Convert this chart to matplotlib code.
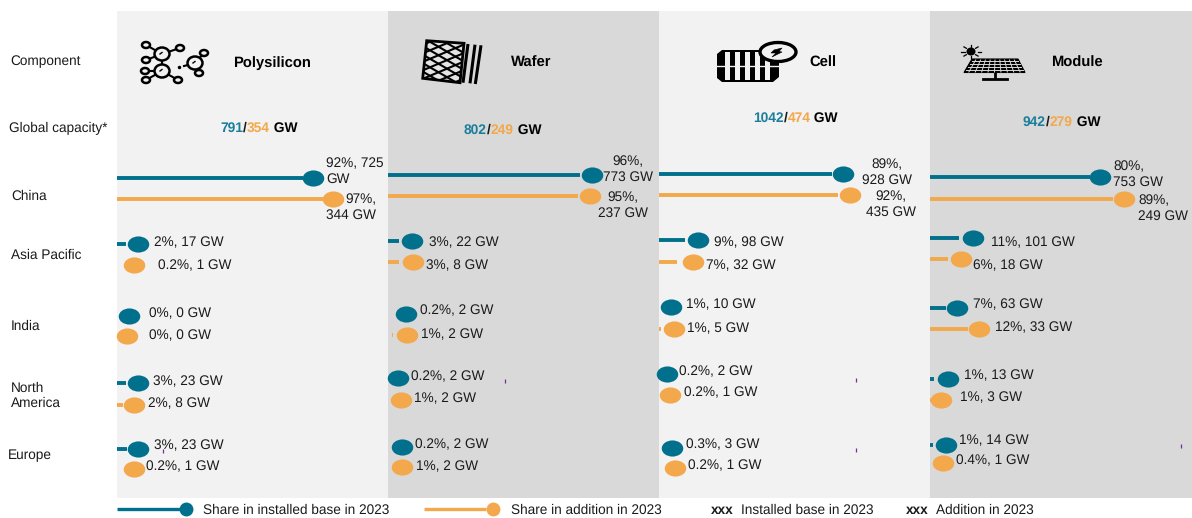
import numpy as np
import matplotlib
matplotlib.use("Agg")
import matplotlib.pyplot as plt
from matplotlib.path import Path
from matplotlib.patches import Ellipse, Polygon, Rectangle

plt.rcParams["font.family"] = ["Liberation Sans", "DejaVu Sans"]
plt.rcParams["text.hinting"] = "none"

# ---- data ----
COMPONENTS = ["Polysilicon", "Wafer", "Cell", "Module"]
REGIONS = ["China", "Asia Pacific", "India", "North\nAmerica", "Europe"]
CAP_BASE = [791, 802, 1042, 942]
CAP_ADD = [354, 249, 474, 279]

# labelled shares and GW, one list per component, in REGIONS order
poly_base_pct = ["92%", "2%", "0%", "3%", "3%"]
poly_base_gw = [725, 17, 0, 23, 23]
poly_add_pct = ["97%", "0.2%", "0%", "2%", "0.2%"]
poly_add_gw = [344, 1, 0, 8, 1]
wafer_base_pct = ["96%", "3%", "0.2%", "0.2%", "0.2%"]
wafer_base_gw = [773, 22, 2, 2, 2]
wafer_add_pct = ["95%", "3%", "1%", "1%", "1%"]
wafer_add_gw = [237, 8, 2, 2, 2]
cell_base_pct = ["89%", "9%", "1%", "0.2%", "0.3%"]
cell_base_gw = [928, 98, 10, 2, 3]
cell_add_pct = ["92%", "7%", "1%", "0.2%", "0.2%"]
cell_add_gw = [435, 32, 5, 1, 1]
module_base_pct = ["80%", "11%", "7%", "1%", "1%"]
module_base_gw = [753, 101, 63, 13, 14]
module_add_pct = ["89%", "6%", "12%", "1%", "0.4%"]
module_add_gw = [249, 18, 33, 3, 1]

poly_base_dot = [92.0, 9.9, 5.6, 9.9, 9.9]
poly_add_dot = [101.4, 8.0, 4.7, 8.0, 8.0]
wafer_base_dot = [95.8, 11.3, 8.5, 4.7, 6.6]
wafer_add_dot = [94.8, 11.7, 8.9, 6.1, 6.6]
cell_base_dot = [86.4, 18.3, 5.6, 3.8, 6.1]
cell_add_dot = [89.7, 16.0, 7.0, 5.2, 7.5]
module_base_dot = [79.8, 20.2, 12.7, 8.5, 7.5]
module_add_dot = [91.1, 14.6, 23.0, 5.2, 6.3]

poly_base_bar = [87.3, 4.2, 0, 4.2, 4.7]
poly_add_bar = [96.7, 0, 0, 2.8, 0]
wafer_base_bar = [90.1, 5.2, 0, 0, 0]
wafer_add_bar = [89.2, 5.2, 2.4, 0, 0]
cell_base_bar = [81.2, 12.2, 0, 0, 0]
cell_add_bar = [84.0, 8.5, 0.9, 0, 0]
module_base_bar = [75.1, 13.6, 7.5, 1.9, 1.4]
module_add_bar = [85.9, 8.5, 17.8, 1.4, 0]

BASE_PCT = [poly_base_pct, wafer_base_pct, cell_base_pct, module_base_pct]
BASE_GW = [poly_base_gw, wafer_base_gw, cell_base_gw, module_base_gw]
ADD_PCT = [poly_add_pct, wafer_add_pct, cell_add_pct, module_add_pct]
ADD_GW = [poly_add_gw, wafer_add_gw, cell_add_gw, module_add_gw]
BASE_DOT = [poly_base_dot, wafer_base_dot, cell_base_dot, module_base_dot]
ADD_DOT = [poly_add_dot, wafer_add_dot, cell_add_dot, module_add_dot]
BASE_BAR = [poly_base_bar, wafer_base_bar, cell_base_bar, module_base_bar]
ADD_BAR = [poly_add_bar, wafer_add_bar, cell_add_bar, module_add_bar]

# ---- layout (pixels of the 1192x518 picture) ----
W, H = 1192, 518
BLUE = "#00708c"
ORANGE = "#f3a84b"
INK = "#1a1a1a"
LABEL_SIZE = 9.85
PANEL_X = [117, 388, 659, 930, 1192]
PANEL_TOP, PANEL_BOTTOM = 11, 498
PANEL_BG = ["#f2f2f2", "#d9d9d9", "#f2f2f2", "#d9d9d9"]
PX_PER_UNIT = 2.13

BASE_Y = [[178, 244, 316, 383, 449], [175, 241, 314, 378, 447],
          [174, 240, 307, 374, 448], [177, 238, 308, 379, 445]]
ADD_Y = [[199, 265, 336, 405, 469], [196, 262, 335, 400, 467],
         [195, 262, 329, 395, 468], [199, 259, 329, 400, 463]]
BASE_LABEL = [[(326, 170, "left"), (154, 242), (149, 313), (153, 381), (154, 445)],
              [(628, 168, "center"), (429, 242), (420, 310), (411, 376), (415, 444)],
              [(887, 171, "center"), (714, 242), (686, 304), (679, 371), (686, 444)],
              [(1113, 173, "left"), (991, 242), (973, 304), (964, 375), (959, 440)]]
ADD_LABEL = [[(376, 206, "right"), (158, 265), (149, 335), (148, 403), (146, 466)],
             [(623, 204, "center"), (426, 265), (421, 334), (414, 398), (416, 466)],
             [(891, 203, "center"), (706, 265), (687, 328), (684, 392), (688, 465)],
             [(1138, 207, "left"), (973, 265), (995, 327), (960, 397), (956, 460)]]
ROW_LABEL = [(11, 195), (11, 254), (11, 325), (11, 395), (8, 454)]
NAME_XY = [(233, 62), (511, 62), (809, 62), (1051, 62)]
CAP_XY = [(220, 127), (464, 129), (753, 117), (1023, 121)]
STRAY_TICKS = [(505, 381), (856, 380), (856, 450), (1181, 446), (163, 451)]

# flattened circle used for all dots
DOT = Path.unit_circle().transformed(matplotlib.transforms.Affine2D().scale(1.0, 0.75))

fig = plt.figure(figsize=(W / 100, H / 100), dpi=100, facecolor="white")

for i in range(4):
    left, right = PANEL_X[i], PANEL_X[i + 1]
    ax = fig.add_axes([left / W, 1 - PANEL_BOTTOM / H, (right - left) / W,
                       (PANEL_BOTTOM - PANEL_TOP) / H], facecolor=PANEL_BG[i])
    ax.set_xlim(0, (right - left) / PX_PER_UNIT)
    ax.set_ylim(PANEL_BOTTOM, PANEL_TOP)
    ax.set_xticks([])
    ax.set_yticks([])
    for s in ax.spines.values():
        s.set_visible(False)
    for r in range(5):
        for bar, dot, y, col in [(BASE_BAR, BASE_DOT, BASE_Y, BLUE), (ADD_BAR, ADD_DOT, ADD_Y, ORANGE)]:
            if bar[i][r] > 0:
                # the tiny wafer/India stub starts off the panel edge
                x0 = 1.9 if (i == 1 and r == 2) else 0
                ax.plot([x0, bar[i][r]], [y[i][r], y[i][r]], color=col, lw=2.8,
                        solid_capstyle="butt", zorder=2)
            ax.plot(dot[i][r], y[i][r], marker=DOT, ms=15.5, color=col, mec="none",
                    ls="none", zorder=3, clip_on=False)

# overlay in picture pixels for text and icons
top = fig.add_axes([0, 0, 1, 1], facecolor="none")
top.set_xlim(0, W)
top.set_ylim(H, 0)
top.axis("off")


def label(x, y, s, **kw):
    kw.setdefault("fontsize", LABEL_SIZE)
    kw.setdefault("color", INK)
    kw.setdefault("va", "center")
    return top.text(x, y + 1, s, **kw)


for row, (x, y) in zip(REGIONS, ROW_LABEL):
    label(x, y, row, linespacing=1.2)
label(10, 60, "Component")
label(9, 127, "Global capacity*")

for i in range(4):
    for r in range(5):
        for pct, gw, pos in [(BASE_PCT, BASE_GW, BASE_LABEL), (ADD_PCT, ADD_GW, ADD_LABEL)]:
            p = pos[i][r]
            if r == 0:
                # China labels wrap; only polysilicon's wraps after the number
                if i == 0 and pct is BASE_PCT:
                    s = f"{pct[i][r]}, {gw[i][r]}\nGW"
                else:
                    s = f"{pct[i][r]},\n{gw[i][r]} GW"
                label(p[0], p[1], s, ha=p[2], multialignment=p[2], linespacing=1.27)
            else:
                label(p[0], p[1], f"{pct[i][r]}, {gw[i][r]} GW")
    label(NAME_XY[i][0], NAME_XY[i][1], COMPONENTS[i], fontweight="bold", fontsize=10.6, color="black")

# global capacity: three colours on one line, placed by measuring each piece
fig.canvas.draw()
renderer = fig.canvas.get_renderer()
for i in range(4):
    x, y = CAP_XY[i]
    for s, col in [(str(CAP_BASE[i]), "#1b7f9b"), ("/", INK), (str(CAP_ADD[i]), ORANGE), ("\u00a0GW", "black")]:
        t = label(x, y, s, fontweight="bold", fontsize=9.9, color=col)
        x += t.get_window_extent(renderer).width

for x, y in STRAY_TICKS:
    top.plot([x, x], [y - 2, y + 2], color="#7030a0", lw=0.9, solid_capstyle="butt")

# legend
top.plot([117, 180], [509, 509], color=BLUE, lw=2.4, solid_capstyle="butt")
top.plot(186, 509, marker="o", ms=10, color=BLUE, mec="none")
label(203, 509, "Share in installed base in 2023")
top.plot([424, 486], [509, 509], color=ORANGE, lw=2.4, solid_capstyle="butt")
top.plot(493, 509, marker="o", ms=10, color=ORANGE, mec="none")
label(511, 509, "Share in addition in 2023")
label(711, 509, "xxx", fontweight="bold")
label(741, 509, "Installed base in 2023")
label(906, 509, "xxx", fontweight="bold")
label(936, 509, "Addition in 2023")

# ---- icons ----
K = "#000000"


def ring(x, y, rx, ry, lw=1.8, fc="none", z=5):
    top.add_patch(Ellipse((x, y), 2 * rx, 2 * ry, fc=fc, ec=K, lw=lw, zorder=z))


# polysilicon molecule
links = [((162, 54), (146, 45)), ((162, 54), (180, 48)), ((162, 54), (146, 60)), ((162, 54), (162, 71)),
         ((162, 71), (145, 71)), ((162, 71), (146, 80)), ((162, 71), (178, 80)),
         ((195, 63), (204, 53)), ((195, 63), (199, 73)), ((184, 66), (188, 65))]
for a, b in links:
    top.plot([a[0], b[0]], [a[1], b[1]], color=K, lw=1.5, zorder=4)
for x, y in [(162, 54), (162, 71), (195, 63)]:
    ring(x, y, 7.5, 6.5, fc="#f2f2f2")
    top.plot([x - 2, x], [y, y - 1.5], color=K, lw=1, zorder=6)
for x, y in [(146, 45), (180, 48), (146, 60), (204, 53), (145, 71), (146, 80), (178, 80), (199, 73)]:
    ring(x, y, 4, 3, fc="#f2f2f2")
top.plot(179, 67, marker="o", ms=1.5, color=K)

# wafer: diamond mesh clipped to the tilted square, plus three slanted bars
c = [(426.7, 40.7), (464, 43.3), (460, 82.7), (422.7, 78.3)]
back = Polygon(c, closed=True, fc="#e4e4e4", ec="none", zorder=5)
top.add_patch(back)
top.add_patch(Polygon(c, closed=True, fc="none", ec=K, lw=2, zorder=7))
xs = np.array([420.0, 470.0])
for s, start in [(1, 25), (-1, 27)]:
    for y0 in np.arange(start, 100, 8.5):
        ln, = top.plot(xs, y0 + (s * 0.5 + 0.08) * (xs - 445), color=K, lw=1.5, zorder=6)
        ln.set_clip_path(back)
for a, b in [((468, 44), (463, 82.7)), ((475, 44.7), (470, 83.3)), ((481, 45.3), (475.3, 84))]:
    top.plot([a[0], b[0]], [a[1], b[1]], color=K, lw=2.2, solid_capstyle="butt", zorder=5)

# cell: chamfered stripy block with bolt badge
top.add_patch(Polygon([(722, 50), (779, 50), (779, 77), (773, 82), (722, 82), (717, 78), (717, 54)],
                      closed=True, fc=K, ec="none", zorder=5))
for x in np.arange(725, 770, 10):
    top.add_patch(Rectangle((x, 52), 5, 28, fc="#f2f2f2", ec="none", zorder=6))
top.plot([717, 779], [65.5, 65.5], color="#f2f2f2", lw=1, zorder=7)
ring(778, 52, 18, 9.5, lw=2.4, fc="#f2f2f2", z=8)
top.add_patch(Polygon([(774, 50), (782, 48), (779, 51.5), (782, 52), (772, 57), (776, 53), (771, 53)],
                      closed=True, fc=K, ec=K, lw=0.4, zorder=9))

# module: solar panel on a stand, sun above
top.add_patch(Polygon([(972, 59), (1018, 59), (1025, 72.5), (964, 72.5)], closed=True, fc=K, ec=K, lw=0.8, zorder=5))
for f in np.linspace(0.15, 0.85, 4):
    x0, x1 = 972 - 8 * f, 1018 + 7 * f
    top.plot([x0 + 1, x1 - 1], [59 + 13.5 * f] * 2, color="#d9d9d9", lw=0.7, zorder=6)
for f in np.linspace(0.08, 0.92, 9):
    top.plot([972 + 46 * f, 964 + 61 * f], [60, 72], color="#d9d9d9", lw=0.7, zorder=6)
top.plot([995, 995], [72, 78], color=K, lw=2, zorder=5)
top.plot([983, 1007], [79, 79], color=K, lw=2, zorder=5)
top.add_patch(Ellipse((971, 51.5), 9, 8, fc=K, ec="none", zorder=5))
for a in np.arange(0, 2 * np.pi, np.pi / 4):
    top.plot([971 + 6.5 * np.cos(a), 971 + 10 * np.cos(a)], [51.5 + 4.5 * np.sin(a), 51.5 + 6.5 * np.sin(a)],
             color=K, lw=0.9, zorder=5)

fig.savefig("out.png", dpi=100)
